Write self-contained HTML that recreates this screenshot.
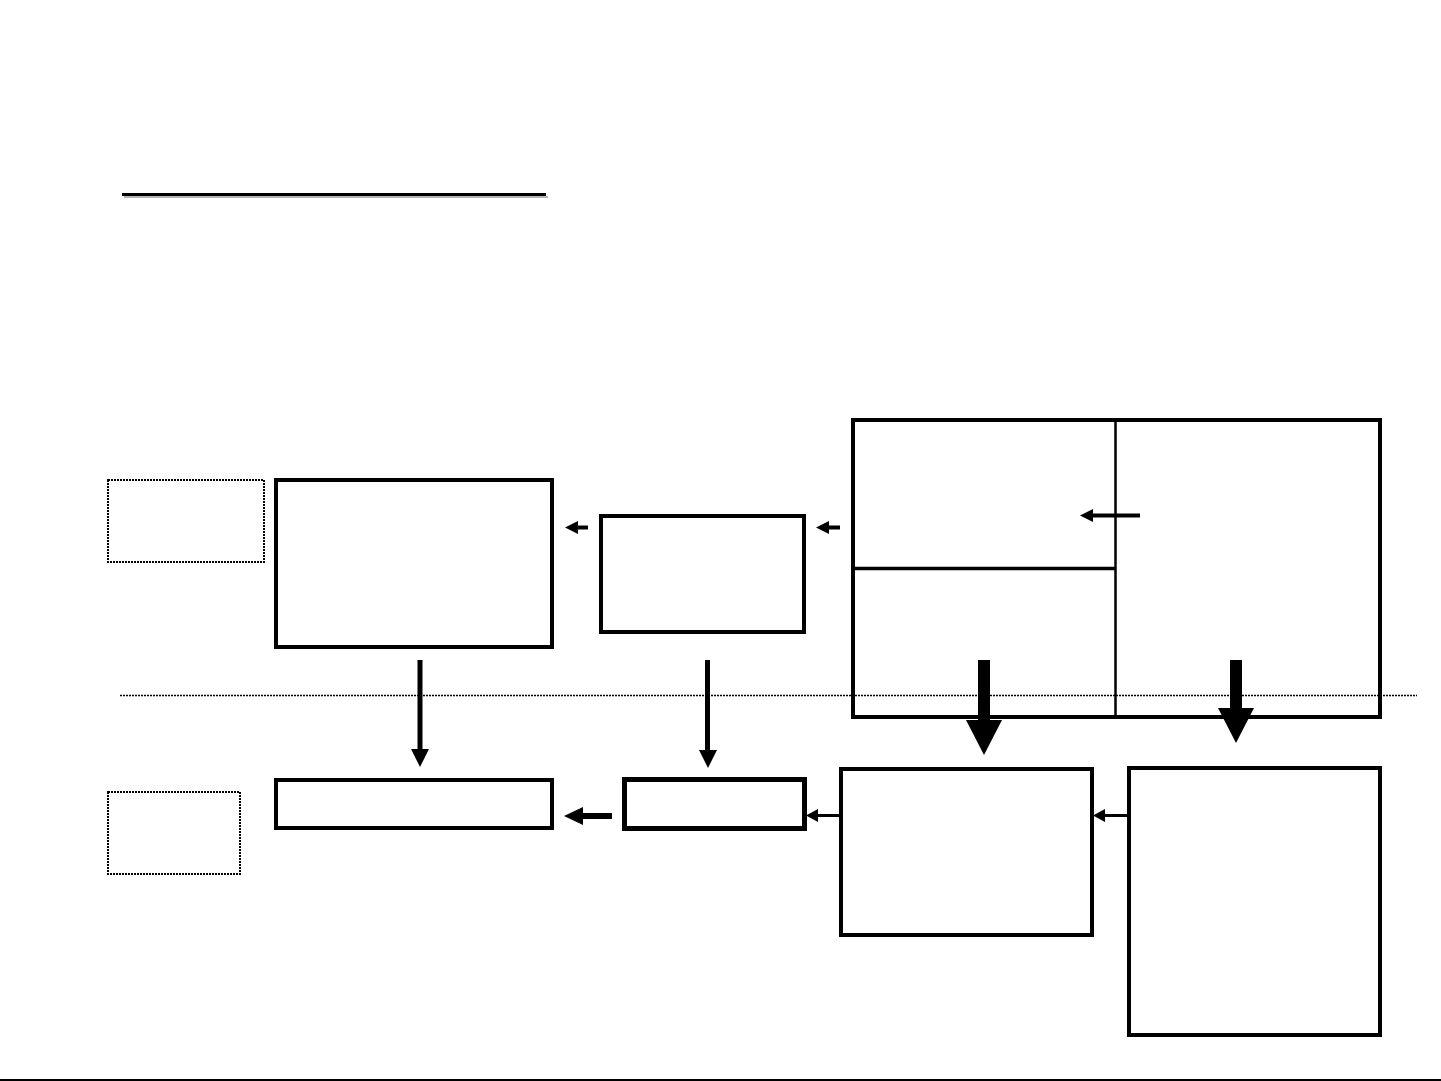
<!DOCTYPE html>
<html>
<head>
<meta charset="utf-8">
<style>
  html, body { margin: 0; padding: 0; background: #fff; }
  body { width: 1441px; height: 1081px; overflow: hidden; font-family: "Liberation Sans", sans-serif; }
  svg { display: block; }
</style>
</head>
<body>
<svg width="1441" height="1081" viewBox="0 0 1441 1081" xmlns="http://www.w3.org/2000/svg">
  <rect x="0" y="0" width="1441" height="1081" fill="#fff"/>

  <!-- title underline with shadow -->
  <rect x="124" y="196" width="424" height="2" fill="#b4b4b4"/>
  <rect x="122" y="193" width="424" height="3" fill="#000"/>

  <!-- dotted boxes -->
  <rect x="108" y="480" width="156" height="82" fill="none" stroke="#000" stroke-width="2" stroke-dasharray="2 1"/>
  <rect x="108" y="792" width="132" height="82" fill="none" stroke="#000" stroke-width="2" stroke-dasharray="2 1"/>

  <!-- dotted horizontal divider -->
  <line x1="120" y1="695.5" x2="1417" y2="695.5" stroke="#000" stroke-width="1.5" stroke-dasharray="2 1"/>

  <!-- Box A -->
  <rect x="276" y="480" width="276" height="167" fill="none" stroke="#000" stroke-width="4"/>
  <!-- Box B -->
  <rect x="601" y="516" width="203" height="116" fill="none" stroke="#000" stroke-width="4"/>

  <!-- Big box -->
  <rect x="853" y="420" width="527" height="297" fill="none" stroke="#000" stroke-width="4"/>
  <line x1="1115.5" y1="420" x2="1115.5" y2="717" stroke="#000" stroke-width="2.5"/>
  <line x1="853" y1="568.5" x2="1115" y2="568.5" stroke="#000" stroke-width="3.5"/>

  <!-- Bottom boxes -->
  <rect x="276" y="780" width="276" height="48" fill="none" stroke="#000" stroke-width="4"/>
  <rect x="624.5" y="779.5" width="180" height="49" fill="none" stroke="#000" stroke-width="5"/>
  <rect x="841" y="769" width="251" height="166" fill="none" stroke="#000" stroke-width="4"/>
  <rect x="1129" y="768" width="251" height="267" fill="none" stroke="#000" stroke-width="4"/>

  <!-- small left arrows (top row) -->
  <line x1="576" y1="527.5" x2="588" y2="527.5" stroke="#000" stroke-width="4"/>
  <polygon points="565,527.5 578,521 578,534" fill="#000"/>
  <line x1="828" y1="527.5" x2="840" y2="527.5" stroke="#000" stroke-width="4"/>
  <polygon points="816,527.5 829,521 829,534" fill="#000"/>

  <!-- internal arrow in big box -->
  <line x1="1090" y1="515.5" x2="1140" y2="515.5" stroke="#000" stroke-width="4"/>
  <polygon points="1080,515.5 1093,509 1093,522" fill="#000"/>

  <!-- thin down arrows -->
  <rect x="417.5" y="660" width="5" height="91" fill="#000"/>
  <polygon points="411,749 429,749 420,767" fill="#000"/>
  <rect x="705" y="660" width="5" height="91" fill="#000"/>
  <polygon points="699,750 717,750 708,768" fill="#000"/>

  <!-- big down arrows -->
  <rect x="978" y="660" width="12" height="62" fill="#000"/>
  <polygon points="966,720 1002,720 984,755" fill="#000"/>
  <rect x="1230" y="660" width="12" height="50" fill="#000"/>
  <polygon points="1218,708 1254,708 1236,743" fill="#000"/>

  <!-- bottom row arrows -->
  <rect x="580" y="813" width="32" height="6" fill="#000"/>
  <polygon points="564,816 583,807 583,825" fill="#000"/>
  <line x1="815" y1="815.5" x2="839" y2="815.5" stroke="#000" stroke-width="3"/>
  <polygon points="806,815.5 818,809 818,822" fill="#000"/>
  <line x1="1103" y1="815.5" x2="1127" y2="815.5" stroke="#000" stroke-width="3"/>
  <polygon points="1093,815.5 1105,809 1105,822" fill="#000"/>

  <!-- bottom page edge line -->
  <rect x="0" y="1079" width="1441" height="2" fill="#000"/>
</svg>
</body>
</html>
